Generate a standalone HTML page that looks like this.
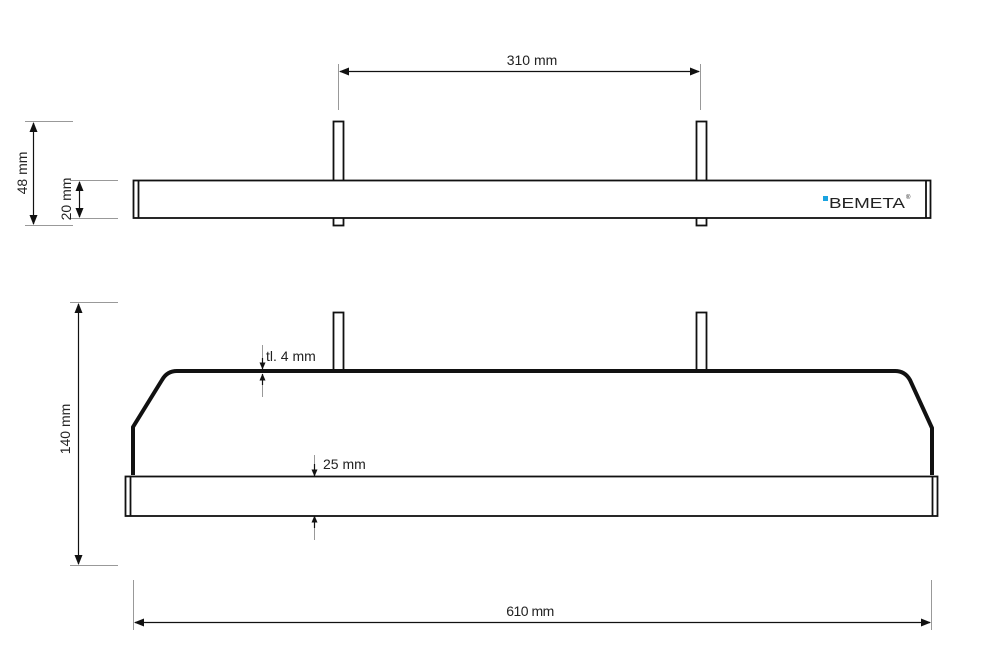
<!DOCTYPE html>
<html><head><meta charset="utf-8"><style>
html,body{margin:0;padding:0;background:#fff;}
svg{display:block;}
text{font-family:"Liberation Sans",sans-serif;fill:#222;}
</style></head><body>
<svg width="1000" height="650" viewBox="0 0 1000 650" xmlns="http://www.w3.org/2000/svg">
<defs>
<marker id="a" markerWidth="10" markerHeight="8" refX="9" refY="4" orient="auto-start-reverse" markerUnits="userSpaceOnUse">
<path d="M0,0 L10,4 L0,8 Z" fill="#111"/></marker>
<marker id="s" markerWidth="7" markerHeight="6" refX="6.5" refY="3" orient="auto-start-reverse" markerUnits="userSpaceOnUse">
<path d="M0,0 L7,3 L0,6 Z" fill="#111"/></marker>
</defs>
<g stroke="#999" stroke-width="1" fill="none">
<line x1="338.5" y1="64" x2="338.5" y2="110"/>
<line x1="700.5" y1="64" x2="700.5" y2="110"/>
<line x1="25" y1="121.5" x2="73" y2="121.5"/>
<line x1="25" y1="225.5" x2="73" y2="225.5"/>
<line x1="70" y1="180.5" x2="118" y2="180.5"/>
<line x1="70" y1="218.5" x2="118" y2="218.5"/>
<line x1="70" y1="302.5" x2="118" y2="302.5"/>
<line x1="70" y1="565.5" x2="118" y2="565.5"/>
<line x1="133.5" y1="580" x2="133.5" y2="630"/>
<line x1="931.5" y1="580" x2="931.5" y2="630"/>
<line x1="262.5" y1="345" x2="262.5" y2="360"/>
<line x1="262.5" y1="380" x2="262.5" y2="397"/>
<line x1="314.5" y1="455" x2="314.5" y2="466"/>
<line x1="314.5" y1="526" x2="314.5" y2="540"/>
</g>
<g stroke="#111" stroke-width="1.2" fill="none">
<line x1="340" y1="71.5" x2="699" y2="71.5" marker-start="url(#a)" marker-end="url(#a)"/>
<line x1="33.5" y1="123" x2="33.5" y2="224" marker-start="url(#a)" marker-end="url(#a)"/>
<line x1="79.5" y1="182" x2="79.5" y2="217" marker-start="url(#a)" marker-end="url(#a)"/>
<line x1="78.5" y1="304" x2="78.5" y2="564" marker-start="url(#a)" marker-end="url(#a)"/>
<line x1="135" y1="622.5" x2="930" y2="622.5" marker-start="url(#a)" marker-end="url(#a)"/>
<line x1="262.5" y1="358" x2="262.5" y2="369" marker-end="url(#s)"/>
<line x1="262.5" y1="385" x2="262.5" y2="374" marker-end="url(#s)"/>
<line x1="314.5" y1="464" x2="314.5" y2="476" marker-end="url(#s)"/>
<line x1="314.5" y1="528" x2="314.5" y2="516" marker-end="url(#s)"/>
</g>
<g stroke="#111" stroke-width="1.8" fill="#fff">
<rect x="333.5" y="121.5" width="10" height="104"/>
<rect x="696.5" y="121.5" width="10" height="104"/>
<rect x="133.5" y="180.5" width="797" height="37.5"/>
<line x1="138.5" y1="180.5" x2="138.5" y2="218"/>
<line x1="926" y1="180.5" x2="926" y2="218"/>
</g>
<rect x="823" y="196" width="5" height="5" fill="#1aa3e0"/>
<text x="829" y="208" font-size="15" textLength="76" lengthAdjust="spacingAndGlyphs">BEMETA</text>
<text x="906" y="199" font-size="6">®</text>
<g stroke="#111" stroke-width="1.8" fill="#fff">
<rect x="333.5" y="312.5" width="10" height="58"/>
<rect x="696.5" y="312.5" width="10" height="58"/>
</g>
<path d="M133,475 L133,427 L162,380 Q167,371 177,371 L895,371 Q905,371 910,380 L932,428 L932,475" fill="none" stroke="#111" stroke-width="4" stroke-linejoin="round"/>
<g stroke="#111" stroke-width="1.8" fill="#fff">
<rect x="125.5" y="476.5" width="812" height="39.5"/>
<line x1="130.5" y1="476.5" x2="130.5" y2="516"/>
<line x1="932.5" y1="476.5" x2="932.5" y2="516"/>
</g>
<text x="532" y="65" font-size="14" text-anchor="middle">310 mm</text>
<text x="530" y="616" font-size="14" text-anchor="middle" letter-spacing="-0.5">610 mm</text>
<text x="266" y="361" font-size="14">tl. 4 mm</text>
<text x="323" y="469" font-size="14">25 mm</text>
<text transform="translate(27,173) rotate(-90)" font-size="14" text-anchor="middle">48 mm</text>
<text transform="translate(71,199) rotate(-90)" font-size="14" text-anchor="middle">20 mm</text>
<text transform="translate(70,429) rotate(-90)" font-size="14" text-anchor="middle">140 mm</text>
</svg>
</body></html>
